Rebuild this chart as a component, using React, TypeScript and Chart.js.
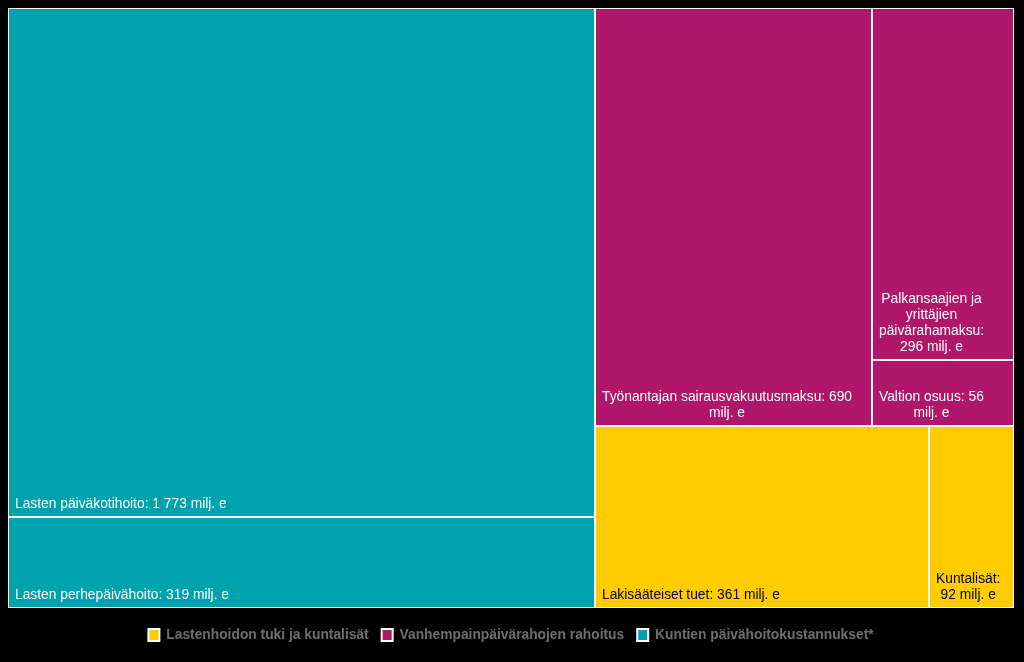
import React, { useEffect, useRef } from "react";
import { Chart, registerables } from "chart.js";

Chart.register(...registerables);

// ---- Data ----
const groupNames = [
  "Lastenhoidon tuki ja kuntalisät",
  "Vanhempainpäivärahojen rahoitus",
  "Kuntien päivähoitokustannukset*",
];
const groupColors = ["#FFCC00", "#B0166A", "#00A3AD"];

const leafNames = [
  "Lakisääteiset tuet",
  "Kuntalisät",
  "Työnantajan sairausvakuutusmaksu",
  "Palkansaajien ja yrittäjien päivärahamaksu",
  "Valtion osuus",
  "Lasten päiväkotihoito",
  "Lasten perhepäivähoito",
];
const leafValues = [361, 92, 690, 296, 56, 1773, 319];
const leafGroups = [0, 0, 1, 1, 1, 2, 2];
const valueUnit = "milj. e";

// ---- Style ----
const FONT_FAMILY = '"Liberation Sans", Arial, Helvetica, sans-serif';
const LABEL_FONT_SIZE = 13.8;
const LINE_HEIGHT = 16;
const LEGEND_TEXT_COLOR = "#6e6e6e";

type Rect = { x: number; y: number; w: number; h: number };

function sum(a: number[]): number {
  return a.reduce((s, v) => s + v, 0);
}

function worst(row: number[], side: number): number {
  const s = sum(row);
  const mx = Math.max(...row);
  const mn = Math.min(...row);
  const s2 = s * s;
  const side2 = side * side;
  return Math.max((side2 * mx) / s2, s2 / (side2 * mn));
}

// Squarified layout; values must be sorted in descending order.
function squarify(values: number[], rect: Rect): Rect[] {
  const total = sum(values);
  const scale = (rect.w * rect.h) / total;
  const areas = values.map((v) => v * scale);
  const out: Rect[] = [];
  let r: Rect = { ...rect };
  let i = 0;
  while (i < areas.length) {
    const side = Math.min(r.w, r.h);
    const row = [areas[i]];
    let j = i + 1;
    while (j < areas.length && worst([...row, areas[j]], side) <= worst(row, side)) {
      row.push(areas[j]);
      j++;
    }
    const s = sum(row);
    if (r.w >= r.h) {
      const cw = s / r.h;
      let yy = r.y;
      for (const a of row) {
        const ch = a / cw;
        out.push({ x: r.x, y: yy, w: cw, h: ch });
        yy += ch;
      }
      r = { x: r.x + cw, y: r.y, w: r.w - cw, h: r.h };
    } else {
      const rh = s / r.w;
      let xx = r.x;
      for (const a of row) {
        const cw2 = a / rh;
        out.push({ x: xx, y: r.y, w: cw2, h: rh });
        xx += cw2;
      }
      r = { x: r.x, y: r.y + rh, w: r.w, h: r.h - rh };
    }
    i = j;
  }
  return out;
}

function formatValue(v: number): string {
  return String(v).replace(/\B(?=(\d{3})+(?!\d))/g, "\u00a0");
}

function textColorFor(hex: string): string {
  const n = parseInt(hex.slice(1), 16);
  const r = (n >> 16) & 255;
  const g = (n >> 8) & 255;
  const b = n & 255;
  const lum = 0.299 * r + 0.587 * g + 0.114 * b;
  return lum > 150 ? "#000000" : "#ffffff";
}

function wrapText(ctx: CanvasRenderingContext2D, text: string, maxW: number): string[] {
  const words = text.split(" ");
  const lines: string[] = [];
  let cur = "";
  for (const w of words) {
    const test = cur ? cur + " " + w : w;
    if (cur && ctx.measureText(test).width > maxW) {
      lines.push(cur);
      cur = w;
    } else {
      cur = test;
    }
  }
  if (cur) lines.push(cur);
  return lines;
}

const treemapPlugin = {
  id: "treemapCells",
  beforeDatasetsDraw(chart: any) {
    const { ctx, chartArea, scales } = chart;
    const aspect = chartArea.width / chartArea.height;

    const groupTotals = groupNames.map((_, g) =>
      sum(leafValues.filter((_, i) => leafGroups[i] === g))
    );
    const gOrder = groupNames.map((_, g) => g).sort((a, b) => groupTotals[b] - groupTotals[a]);
    const gRects = squarify(
      gOrder.map((g) => groupTotals[g]),
      { x: 0, y: 0, w: aspect, h: 1 }
    );

    const cells: { i: number; g: number; r: Rect }[] = [];
    gOrder.forEach((g, k) => {
      const idx = leafValues
        .map((_, i) => i)
        .filter((i) => leafGroups[i] === g)
        .sort((a, b) => leafValues[b] - leafValues[a]);
      const rects = squarify(idx.map((i) => leafValues[i]), gRects[k]);
      idx.forEach((i, m) => cells.push({ i, g, r: rects[m] }));
    });

    const px = (u: number) => Math.round(scales.x.getPixelForValue(u / aspect));
    const py = (v: number) => Math.round(scales.y.getPixelForValue(v));

    ctx.save();
    const ax0 = px(0);
    const ax1 = px(aspect);
    const ay0 = py(0);
    const ay1 = py(1);
    ctx.fillStyle = "#ffffff";
    ctx.fillRect(ax0, ay0, ax1 - ax0, ay1 - ay0);

    for (const c of cells) {
      const x0 = px(c.r.x);
      const x1 = px(c.r.x + c.r.w);
      const y0 = py(c.r.y);
      const y1 = py(c.r.y + c.r.h);
      ctx.fillStyle = groupColors[c.g];
      ctx.fillRect(x0 + 1, y0 + 1, x1 - x0 - 2, y1 - y0 - 2);
    }

    ctx.font = `${LABEL_FONT_SIZE}px ${FONT_FAMILY}`;
    ctx.textBaseline = "alphabetic";
    ctx.textAlign = "left";
    for (const c of cells) {
      const x0 = px(c.r.x) + 1;
      const x1 = px(c.r.x + c.r.w) - 1;
      const y1 = py(c.r.y + c.r.h) - 1;
      const label = `${leafNames[c.i]}: ${formatValue(leafValues[c.i])} ${valueUnit}`;
      const pad = 6;
      const avail = x1 - x0 - 2 * pad;
      const lines = wrapText(ctx, label, avail);
      const widths = lines.map((l) => ctx.measureText(l).width);
      const blockW = Math.max(...widths);
      const left = x0 + pad;
      const lastBase = y1 - 8;
      ctx.fillStyle = textColorFor(groupColors[c.g]);
      lines.forEach((l, k) => {
        const bx = left + (blockW - widths[k]) / 2;
        const by = lastBase - (lines.length - 1 - k) * LINE_HEIGHT;
        ctx.fillText(l, bx, by);
      });
    }
    ctx.restore();
  },
};

export default function App() {
  const canvasRef = useRef<HTMLCanvasElement | null>(null);

  useEffect(() => {
    document.body.style.margin = "0";
    document.body.style.background = "#000000";
    const canvas = canvasRef.current;
    if (!canvas) return;
    const chart = new Chart(canvas, {
      type: "scatter",
      data: {
        datasets: groupNames.map((name, i) => ({
          label: name,
          data: [],
          backgroundColor: groupColors[i],
          borderColor: "#ffffff",
          borderWidth: 2,
        })),
      },
      options: {
        responsive: false,
        animation: false,
        events: [],
        layout: { padding: { left: 8, right: 10, top: 8, bottom: 10 } },
        scales: {
          x: {
            type: "linear",
            min: 0,
            max: 1,
            display: true,
            grid: { display: false, drawTicks: false },
            border: { display: false },
            ticks: { display: false },
            afterFit: (scale: any) => {
              scale.height = 7;
            },
          },
          y: {
            type: "linear",
            min: 0,
            max: 1,
            reverse: true,
            display: false,
          },
        },
        plugins: {
          tooltip: { enabled: false },
          legend: {
            display: true,
            position: "bottom",
            align: "center",
            labels: {
              boxWidth: 11,
              boxHeight: 12,
              padding: 13,
              color: LEGEND_TEXT_COLOR,
              font: { family: FONT_FAMILY, size: LABEL_FONT_SIZE, weight: "bold" },
              generateLabels: () =>
                groupNames.map((name, i) => ({
                  text: name,
                  fillStyle: groupColors[i],
                  strokeStyle: "#ffffff",
                  lineWidth: 2,
                  fontColor: LEGEND_TEXT_COLOR,
                  hidden: false,
                  datasetIndex: i,
                })),
            },
          },
        },
      },
      plugins: [treemapPlugin],
    } as any);
    return () => chart.destroy();
  }, []);

  return (
    <div
      style={{
        position: "absolute",
        left: 0,
        top: 0,
        width: 1024,
        height: 662,
        background: "#000000",
      }}
    >
      <canvas ref={canvasRef} width={1024} height={662} style={{ display: "block" }} />
    </div>
  );
}
